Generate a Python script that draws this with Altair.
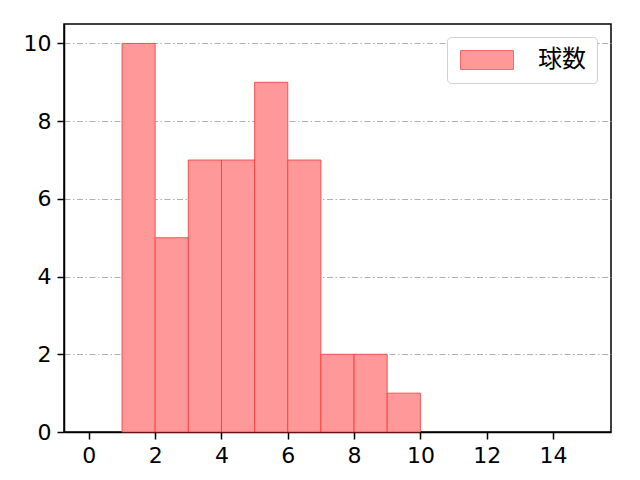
import altair as alt
import pandas as pd

bin_start = [1, 2, 3, 4, 5, 6, 7, 8, 9]
bin_end = [2, 3, 4, 5, 6, 7, 8, 9, 10]
counts = [10, 5, 7, 7, 9, 7, 2, 2, 1]
series = "球数"

df = pd.DataFrame({"start": bin_start, "end": bin_end, "count": counts, "s": [series] * len(counts)})

FONT = "Noto Sans CJK JP"
AXFONT = "DejaVu Sans"

bars = alt.Chart(df).mark_rect(stroke="#ff3333", strokeWidth=1, strokeOpacity=0.8).encode(
    x=alt.X("start:Q", scale=alt.Scale(domain=[-0.75, 15.75], nice=False, zero=False),
            axis=alt.Axis(values=[0, 2, 4, 6, 8, 10, 12, 14], title=None, grid=False, format="d")),
    x2="end:Q",
    y=alt.Y("count:Q", scale=alt.Scale(domain=[0, 10.5], nice=False),
            axis=alt.Axis(values=[0, 2, 4, 6, 8, 10], title=None, grid=True, format="d",
                          gridColor="#b0b0b0", gridDash=[6, 2.5, 1.5, 2.5], gridWidth=1)),
    y2=alt.datum(0),
    color=alt.Color("s:N", scale=alt.Scale(range=["#ff9999"]),
                    legend=alt.Legend(title=None, orient="none", legendX=383, legendY=13,
                                      symbolType="M-1,-1L4.58,-1L4.58,1L-1,1Z",
                                      symbolSize=361, symbolStrokeColor="#ff6666",
                                      symbolStrokeWidth=1, labelFontSize=24, labelFont=FONT,
                                      labelColor="black", labelOffset=56, padding=11,
                                      strokeColor="#d0d0d0", cornerRadius=4, fillColor="white")),
)

chart = bars.properties(
    width=547, height=408,
    autosize=alt.AutoSizeParams(type="none"),
    padding={"left": 56, "top": 16, "right": 20, "bottom": 40},
).configure_view(stroke="black", strokeWidth=1.5).configure_axis(
    domainColor="black", domainWidth=1.5, tickColor="black", tickWidth=1.5, tickSize=7,
    labelFont=AXFONT, labelFontSize=22, labelColor="black", labelPadding=6,
)

chart.save("out.html", embed_options={"renderer": "svg", "actions": False})
